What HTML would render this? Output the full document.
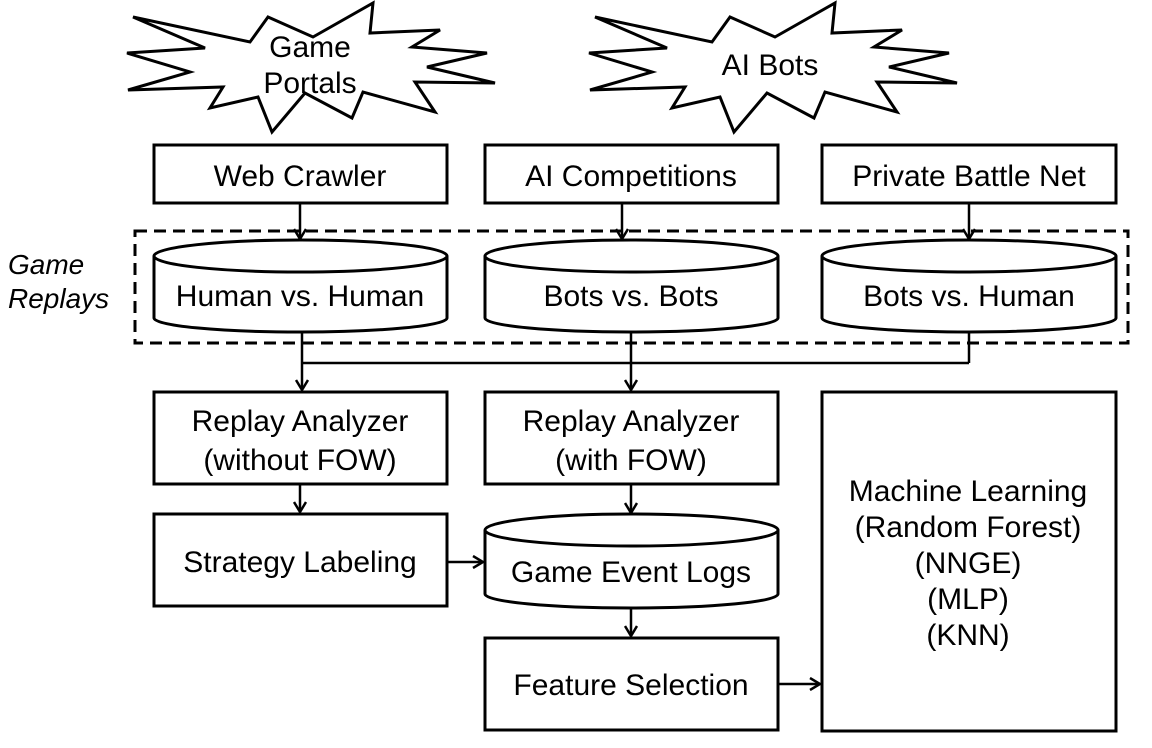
<!DOCTYPE html>
<html><head><meta charset="utf-8"><style>
html,body{margin:0;padding:0;background:#fff;}
svg{display:block;}
text{font-family:"Liberation Sans",Arial,sans-serif;font-size:30px;fill:#000;text-anchor:middle;}
</style></head><body>
<svg width="1152" height="748" viewBox="0 0 1152 748" xmlns="http://www.w3.org/2000/svg">
<defs>
<marker id="a" markerWidth="14" markerHeight="14" refX="11" refY="7" orient="auto" markerUnits="userSpaceOnUse">
<path d="M1,1 L11,7 L1,13" fill="none" stroke="#000" stroke-width="2.5"/>
</marker>
<g id="star">
<polygon fill="#fff" stroke="#000" stroke-width="3" stroke-linejoin="miter" points="133,17 250,42 268,17 313,37 373,3 370,33 440,30 412,47 487,53 427,67 495,83 415,82 435,112 363,92 352,118 305,93 272,132 258,97 210,108 223,87 128,90 190,72 127,53 205,48"/>
</g>
</defs>
<use href="#star"/>
<use href="#star" transform="translate(462,0)"/>
<text x="310" y="57">Game</text>
<text x="310" y="93">Portals</text>
<text x="770" y="75">AI Bots</text>

<g fill="none" stroke="#000" stroke-width="3">
<rect x="154" y="145" width="293" height="58"/>
<rect x="485" y="145" width="293" height="58"/>
<rect x="822" y="145" width="294" height="58"/>
<rect x="135" y="231" width="993" height="112" stroke-dasharray="12,7"/>
<rect x="154" y="392" width="293" height="92"/>
<rect x="485" y="392" width="293" height="92"/>
<rect x="154" y="514" width="293" height="92"/>
<rect x="485" y="638" width="293" height="92"/>
<rect x="822" y="392" width="294" height="339"/>
</g>

<g fill="#fff" stroke="#000" stroke-width="3">
<path d="M154,256 A146.5,16 0 0 1 447,256 V318 A146.5,14 0 0 1 154,318 Z"/>
<path d="M154,256 A146.5,16 0 0 0 447,256" fill="none"/>
<path d="M485,256 A146.5,16 0 0 1 778,256 V318 A146.5,14 0 0 1 485,318 Z"/>
<path d="M485,256 A146.5,16 0 0 0 778,256" fill="none"/>
<path d="M822,256 A147,16 0 0 1 1116,256 V318 A147,14 0 0 1 822,318 Z"/>
<path d="M822,256 A147,16 0 0 0 1116,256" fill="none"/>
<path d="M485,530 A146.5,16 0 0 1 778,530 V594 A146.5,14 0 0 1 485,594 Z"/>
<path d="M485,530 A146.5,16 0 0 0 778,530" fill="none"/>
</g>

<g fill="none" stroke="#000" stroke-width="2.5">
<line x1="300" y1="203" x2="300" y2="239" marker-end="url(#a)"/>
<line x1="622" y1="203" x2="622" y2="239" marker-end="url(#a)"/>
<line x1="969" y1="203" x2="969" y2="239" marker-end="url(#a)"/>
<line x1="302" y1="332" x2="302" y2="390" marker-end="url(#a)"/>
<line x1="631" y1="332" x2="631" y2="390" marker-end="url(#a)"/>
<line x1="969" y1="332" x2="969" y2="363"/>
<line x1="302" y1="363" x2="969" y2="363"/>
<line x1="300" y1="484" x2="300" y2="512" marker-end="url(#a)"/>
<line x1="631" y1="484" x2="631" y2="513" marker-end="url(#a)"/>
<line x1="447" y1="562" x2="483" y2="562" marker-end="url(#a)"/>
<line x1="631" y1="608" x2="631" y2="636" marker-end="url(#a)"/>
<line x1="778" y1="684" x2="820" y2="684" marker-end="url(#a)"/>
</g>

<text x="300" y="186">Web Crawler</text>
<text x="631" y="186">AI Competitions</text>
<text x="969" y="186">Private Battle Net</text>
<text x="300" y="306">Human vs. Human</text>
<text x="631" y="306">Bots vs. Bots</text>
<text x="969" y="306">Bots vs. Human</text>
<text x="300" y="431">Replay Analyzer</text>
<text x="300" y="470">(without FOW)</text>
<text x="631" y="431">Replay Analyzer</text>
<text x="631" y="470">(with FOW)</text>
<text x="300" y="572">Strategy Labeling</text>
<text x="631" y="582">Game Event Logs</text>
<text x="631" y="695">Feature Selection</text>
<text x="968" y="501">Machine Learning</text>
<text x="968" y="537">(Random Forest)</text>
<text x="968" y="573">(NNGE)</text>
<text x="968" y="609">(MLP)</text>
<text x="968" y="645">(KNN)</text>
<text x="8" y="274" style="text-anchor:start;font-style:italic;font-size:28px">Game</text>
<text x="8" y="308" style="text-anchor:start;font-style:italic;font-size:28px">Replays</text>
</svg>
</body></html>
